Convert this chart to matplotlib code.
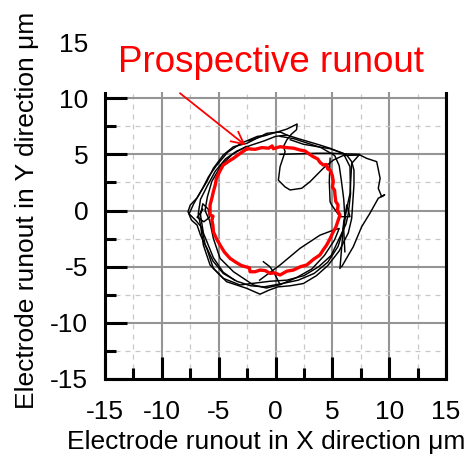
import numpy as np
import matplotlib.pyplot as plt
from matplotlib.patches import Rectangle
from matplotlib.ticker import MultipleLocator

plt.rcParams['font.family'] = ['Liberation Sans', 'DejaVu Sans']
plt.rcParams['axes.unicode_minus'] = False

# prospective runout (red)
red_x = [-2.5, -1.8, -1.2, -0.6, -0.3, -0.2, 0.4, 1.0, 1.6, 2.15, 2.6, 3.0, 3.3, 3.7, 3.9, 4.2, 4.5,
         4.6, 4.8, 5.0, 5.08, 5.0, 5.2, 5.23, 5.3, 5.5, 5.45, 5.67, 5.5, 5.3, 5.08, 4.8, 4.5, 4.2,
         3.9, 3.4, 2.74, 2.2, 1.57, 1.0, 0.4, -0.1, -0.48, -0.9, -1.36, -1.8, -2.24, -2.3, -3.0,
         -3.5, -4.0, -4.5, -4.88, -5.2, -5.47, -5.5, -5.6, -5.5, -5.76, -5.76, -5.6, -5.47, -5.3,
         -5.2, -4.9, -4.6, -4.1, -3.7, -3.1, -2.5]
red_y = [5.5, 5.45, 5.6, 5.55, 5.75, 5.5, 5.68, 5.6, 5.55, 5.39, 5.3, 5.0, 4.8, 4.6, 4.3, 4.05, 4.1,
         3.7, 3.6, 3.1, 2.56, 2.1, 1.8, 1.38, 0.8, 0.49, 0.0, -0.4, -0.9, -1.5, -1.89, -2.5, -3.07,
         -3.5, -3.96, -4.3, -4.85, -5.0, -5.3, -5.4, -5.74, -5.55, -5.6, -5.35, -5.3, -5.45, -5.45,
         -5.1, -4.9, -4.6, -4.26, -3.7, -3.07, -2.5, -1.89, -1.4, -0.85, -0.5, -0.4, 0.49, 1.1, 1.67,
         2.3, 2.87, 3.5, 4.05, 4.4, 4.65, 5.1, 5.5]

# measured runout traces (black)
loop_a_x = [0.4, -0.78, -1.65, -2.53, -3.7, -4.6, -5.47, -6.05, -6.93, -7.5, -7.7, -7.4, -6.9, -6.6,
            -6.05, -5.47, -4.3, -2.53, -1.36, -0.6, 0.2, 1.3, 2.45, 3.6, 4.6, 5.6, 6.4, 6.7, 6.8,
            6.9, 6.9, 6.7, 6.26, 4.8, 3.9, 3.0, 2.0, 1.0, 0.4]
loop_a_y = [7.0, 6.87, 6.43, 5.98, 5.68, 4.94, 3.76, 2.56, 1.09, 0.49, -0.1, -0.85, -1.3, -2.2,
            -3.37, -5.15, -6.34, -6.93, -7.45, -7.1, -6.8, -6.7, -6.5, -5.8, -4.9, -3.6, -2.0, -0.7,
            0.8, 2.3, 3.6, 4.35, 4.94, 5.54, 5.83, 6.1, 6.4, 6.72, 7.0]

loop_b_x = [1.0, 0.0, -1.0, -2.2, -3.4, -4.4, -5.3, -6.0, -6.6, -6.8, -6.6, -6.35, -5.76, -4.6,
            -3.12, -1.95, -0.5, 1.0, 2.5, 3.8, 4.9, 5.6, 6.2, 6.4, 6.6, 6.55, 5.96, 4.8, 3.6, 2.45,
            1.3]
loop_b_y = [6.72, 6.6, 6.2, 5.8, 5.3, 4.6, 3.5, 2.2, 1.0, -0.3, -1.3, -3.07, -4.85, -6.04, -6.63,
            -6.48, -6.3, -6.2, -5.8, -5.0, -4.0, -2.5, -1.2, -0.3, 1.5, 3.9, 5.1, 5.5, 5.7, 5.9, 6.3]

loop_c_x = [-2.6, -3.8, -4.8, -5.6, -6.0, -6.2, -5.8, -5.47, -4.88, -3.7, -1.95, -0.8, 0.4, 1.8,
            3.2, 4.3, 5.2, 5.6, 5.1, 3.9, 2.15, 0.4, -0.6, -1.4]
loop_c_y = [5.7, 5.0, 4.0, 2.6, 1.2, 0.0, -0.9, -2.48, -4.26, -5.45, -6.63, -6.9, -6.6, -6.0, -5.2,
            -4.0, -2.6, -1.6, -1.74, -2.2, -3.37, -4.85, -5.6, -6.2]

loop_d_x = [-6.4, -6.9, -6.3, -5.8, -5.9, -6.4, -6.6, -6.35, -5.47, -4.6, -3.6]
loop_d_y = [0.1, -0.6, -1.0, -0.6, 0.1, 0.6, -0.4, -2.0, -4.2, -5.5, -6.2]

loop_e_x = [-0.8, -1.6, -3.0, -4.2, -5.2, -5.9, -6.4, -7.2, -7.6, -7.0, -6.5, -6.2, -5.5, -4.6,
            -3.4, -2.2, -1.0, 0.6, 2.0, 3.4, 4.6, 5.5, 5.9, 6.1, 6.0, 5.8, 5.6, 5.2, 4.0, 2.8, 1.6,
            0.4]
loop_e_y = [6.7, 6.6, 6.0, 5.2, 4.0, 3.0, 2.0, 0.6, -0.3, -0.9, -1.5, -3.0, -4.5, -5.6, -6.3,
            -6.7, -6.8, -6.5, -6.2, -5.6, -4.6, -3.2, -1.9, -0.6, 1.0, 2.6, 4.0, 4.9, 5.6, 6.0, 6.4,
            6.6]

spike_x = [-2.4, -1.2, 0.2, 1.0, 1.5, 1.9, 1.85, 1.4, 1.0, 0.7, 0.84, 0.4, 0.25, 0.84, 1.28, 2.3,
           3.03, 4.2, 5.1, 5.96, 7.43, 8.0, 8.9, 9.2, 9.04, 9.34, 9.6, 9.04, 8.3, 7.58, 6.84, 5.82]
spike_y = [6.2, 6.6, 7.0, 7.25, 7.5, 7.7, 7.2, 6.8, 6.3, 5.7, 5.24, 3.9, 2.7, 2.1, 1.83, 1.98,
           2.56, 3.76, 4.5, 4.9, 4.94, 4.65, 4.35, 2.87, 1.98, 1.23, 1.4, 1.09, -0.25, -1.44, -3.22,
           -5.0]

right_x = [0.4, 2.0, 3.6, 5.0, 6.0, 7.4, 6.7, 6.55, 6.0, 5.67]
right_y = [5.0, 5.05, 5.1, 5.1, 5.05, 5.0, 4.2, 1.5, -1.0, -5.15]

inner_x = [4.8, 4.73, 4.8, 4.94, 5.67, 6.55, 6.26, 6.0, 6.1]
inner_y = [4.65, 2.56, 0.78, 0.49, -0.55, -0.55, 0.49, -1.74, -3.67]

hook_x = [-1.07, -0.5, -0.1, 0.2, 0.4]
hook_y = [-4.56, -5.0, -5.6, -6.2, -6.6]

traces = [(loop_a_x, loop_a_y), (loop_b_x, loop_b_y), (loop_c_x, loop_c_y),
          (loop_d_x, loop_d_y), (loop_e_x, loop_e_y), (spike_x, spike_y),
          (right_x, right_y), (inner_x, inner_y), (hook_x, hook_y)]

fig = plt.figure(figsize=(4.72, 4.57), dpi=100)
ax = fig.add_axes([0.2225, 0.1707, 0.7225, 0.7373])

for tx, ty in traces:
    ax.plot(tx, ty, color='black', lw=1.05, zorder=3)
ax.plot(red_x, red_y, color='#ff0000', lw=2.4, zorder=4)

ax.set_xlim(-15, 15)
ax.set_ylim(-15, 15)
ax.xaxis.set_major_locator(MultipleLocator(5))
ax.yaxis.set_major_locator(MultipleLocator(5))
ax.xaxis.set_minor_locator(MultipleLocator(2.5))
ax.yaxis.set_minor_locator(MultipleLocator(2.5))
ax.grid(which='major', color='#959595', lw=1.5, ls='-', zorder=1)
ax.grid(which='minor', color='#c8c8c8', lw=0.9, ls=(0, (4, 4)), zorder=1)
ax.set_axisbelow(True)
ax.tick_params(which='major', direction='in', length=16, width=2.2, labelsize=19,
               top=False, right=False)
ax.tick_params(which='minor', direction='in', length=8, width=2.2, top=False, right=False)
ax.tick_params(axis='x', pad=15)
ax.tick_params(axis='y', pad=12)
for s in ax.spines.values():
    s.set_linewidth(2.2)

# blank out the top band of the frame
ax.add_patch(Rectangle((-0.015, 0.852), 1.03, 0.2, transform=ax.transAxes, facecolor='white',
                       edgecolor='none', clip_on=False, zorder=5))

ax.set_xlabel('Electrode runout in X direction \u03bcm', fontsize=19)
ax.set_ylabel('Electrode runout in Y direction \u03bcm', fontsize=19)
ax.xaxis.set_label_coords(0.472, -0.152)
ax.yaxis.set_label_coords(-0.195, 0.5)

fig.text(0.575, 0.842, 'Prospective runout', color='#ff0000', fontsize=26.5,
         ha='center', va='baseline')
ax.annotate('', xy=(-2.45, 5.65), xytext=(-8.6, 10.6),
            arrowprops=dict(arrowstyle='->', color='#ff0000', lw=1.3, mutation_scale=22),
            zorder=6, annotation_clip=False)

fig.savefig('out.png', dpi=100)
